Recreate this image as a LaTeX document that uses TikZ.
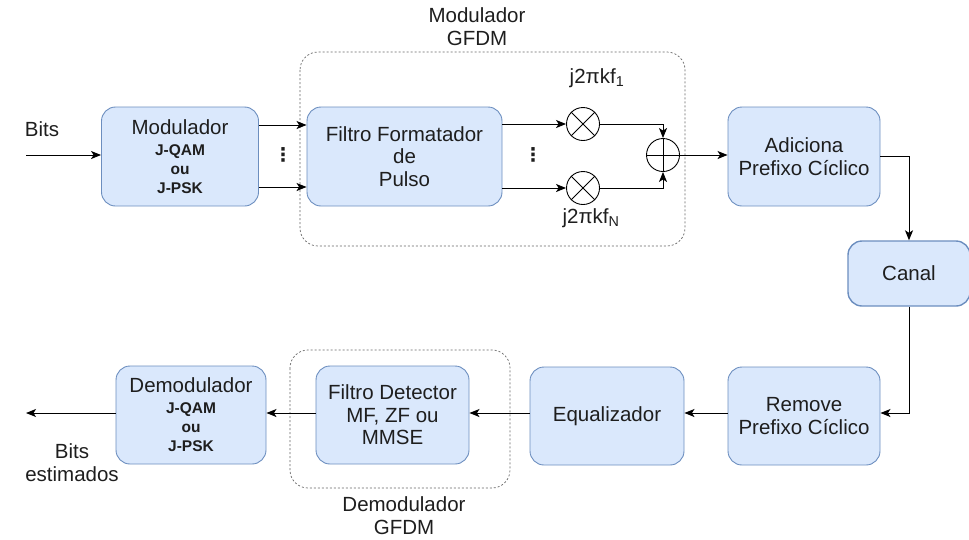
\documentclass[tikz,border=0pt]{standalone}
\usepackage{fontspec}
\setmainfont{Liberation Sans}
\newfontfamily\symfont{DejaVu Sans}
\usetikzlibrary{arrows.meta,positioning,calc}
\definecolor{boxfill}{HTML}{DAE8FC}
\definecolor{boxline}{HTML}{6C8EBF}
\definecolor{txt}{HTML}{1E1E1E}
\newcommand{\sm}{\bfseries\fontsize{15.5}{17.5}\selectfont}
\tikzset{
  x=1pt,y=-1pt,
  blk/.style={draw=boxline,fill=boxfill,line width=0.9pt,rounded corners=14pt,
    minimum width=#1,align=center,font=\fontsize{20.5}{22.5}\selectfont,text=txt,inner sep=0pt},
  blk/.default=153pt,
  grp/.style={draw=gray!80!black,line width=0.7pt,dash pattern=on 2pt off 2pt,rounded corners=18pt},
  conn/.style={line width=1pt,-{Stealth[length=10pt,width=8pt,inset=2.5pt]}},
  lbl/.style={font=\fontsize{20.5}{23}\selectfont,text=txt,align=center,inner sep=0pt},
  opc/.style={draw=black,line width=0.9pt,circle,minimum size=33pt,inner sep=0pt,fill=white},
  vdots/.style={font=\symfont\bfseries\fontsize{19}{19}\selectfont,text=txt,inner sep=0pt}
}
\begin{document}
\begin{tikzpicture}
\useasboundingbox (0,0) rectangle (969,539);

% dashed group outlines
\draw[grp] (300,52) rectangle (685,246);
\draw[grp] (290,350) rectangle (510,488);

% transmitter blocks
\node[blk=157pt,minimum height=99pt] (mod) at (180,156.5) {Modulador\\[-1.5pt]\sm J-QAM\\[-3.5pt]\sm ou\\[-3.5pt]\sm J-PSK};
\node[blk=195pt,minimum height=99pt] (ffp) at (404.5,156.5) {Filtro Formatador\\de\\Pulso};
\node[opc] (m1) at (583,124) {};
\node[opc] (m2) at (583,188) {};
\node[opc] (sum) at (663,155) {};
\draw[line width=0.9pt] (m1.north west) -- (m1.south east) (m1.north east) -- (m1.south west);
\draw[line width=0.9pt] (m2.north west) -- (m2.south east) (m2.north east) -- (m2.south west);
\draw[line width=0.9pt] (sum.north) -- (sum.south) (sum.west) -- (sum.east);
\node[blk=152pt,minimum height=99pt] (cp) at (804,156.5) {Adiciona\\Prefixo Cíclico};
\node[blk=122pt,minimum height=65pt,line width=1.4pt] (ch) at (909,273.5) {Canal};

% receiver blocks
\node[blk=152pt,minimum height=98pt] (rcp) at (804,416) {Remove\\Prefixo Cíclico};
\node[blk=154pt,minimum height=98pt] (eq) at (607,416) {Equalizador};
\node[blk=153pt,minimum height=98pt] (det) at (392.5,415) {Filtro Detector\\MF, ZF ou\\MMSE};
\node[blk=150pt,minimum height=98pt] (dem) at (191,415) {Demodulador\\[-1.5pt]\sm J-QAM\\[-3.5pt]\sm ou\\[-3.5pt]\sm J-PSK};

% free ends
\coordinate (bin) at (26,155);
\coordinate (bout) at (26,413);

% labels
\node[lbl] (lmod) at (477,27) {Modulador\\GFDM};
\node[lbl] (ldem) at (404,516) {Demodulador\\GFDM};
\node[lbl] (lbits) at (42,129) {Bits};
\node[lbl] (lbe) at (72,463) {Bits\\estimados};
\node[lbl] (lf1) at (597,78) {j2πkf\textsubscript{1}};
\node[lbl] (lfn) at (591,218) {j2πkf\textsubscript{N}};
\node[vdots] (d1) at (283,155) {⋮};
\node[vdots] (d2) at (533,155) {⋮};

% connectors
\draw[conn] (bin) -- (mod.west |- bin);
\draw[conn] (mod.east |- 0,125) -- (ffp.west |- 0,125);
\draw[conn] (mod.east |- 0,187) -- (ffp.west |- 0,187);
\draw[conn] (ffp.east |- m1) -- (m1.west);
\draw[conn] (ffp.east |- m2) -- (m2.west);
\draw[conn] (m1.east) -| (sum.north);
\draw[conn] (m2.east) -| (sum.south);
\draw[conn] (sum.east) -- (cp.west |- sum);
\draw[conn] (cp.east) -| (ch.north);
\draw[conn] (ch.south) |- (rcp.east |- 0,413);
\draw[conn] (rcp.west |- 0,413) -- (eq.east |- 0,413);
\draw[conn] (eq.west |- 0,413) -- (det.east |- 0,413);
\draw[conn] (det.west |- 0,413) -- (dem.east |- 0,413);
\draw[conn] (dem.west |- bout) -- (bout);
\end{tikzpicture}
\end{document}
